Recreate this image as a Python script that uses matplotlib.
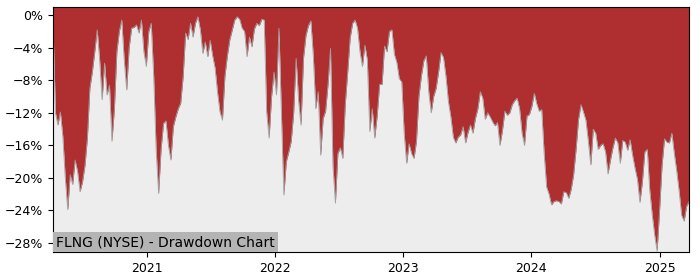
import matplotlib
matplotlib.use('Agg')
import matplotlib.pyplot as plt
import matplotlib.dates as mdates
from matplotlib.ticker import PercentFormatter, MultipleLocator
import pandas as pd

# Cores
COLOR_DD = "#AF2E30"
COLOR_BG = "#EDEDED"
COLOR_EDGE = "#A0A0A0"
COLOR_LABEL = "#B4B4B4"

TICKER = "FLNG"
EXCHANGE = "NYSE"

# drawdown semanal (%)
week_start = "2020-04-08"
drawdown = [
    -1.0, -12.0, -13.5, -11.9, -14.9, -20.0, -23.9, -19.6, -20.8, -17.8,
    -19.2, -21.7, -20.5, -18.5, -15.1, -9.0, -7.0, -4.5, -1.8, -5.5,
    -10.4, -5.9, -9.8, -8.6, -15.5, -11.5, -4.5, -2.0, -0.6, -5.5,
    -9.2, -4.0, -1.6, -1.5, -1.2, -2.2, -0.6, -4.5, -6.3, -2.0,
    -1.0, -7.5, -16.5, -21.9, -16.5, -13.3, -13.0, -16.0, -17.8, -13.7,
    -12.5, -11.5, -10.8, -7.5, -2.2, -3.0, -1.0, -2.7, -1.0, -0.2,
    -1.8, -4.7, -3.3, -5.1, -3.1, -5.0, -6.5, -9.5, -11.9, -12.9,
    -7.5, -5.0, -3.0, -1.8, -0.6, -0.2, -0.5, -1.6, -2.0, -5.1,
    -2.7, -3.9, -1.7, -1.0, -1.3, -0.5, -0.6, -11.9, -15.1, -10.0,
    -7.0, -9.8, -1.6, -12.0, -22.1, -18.0, -16.8, -15.5, -12.0, -5.3,
    -10.5, -13.5, -5.3, -2.5, -1.3, -0.7, -5.0, -11.5, -9.4, -17.2,
    -12.7, -11.8, -8.5, -4.1, -18.5, -23.1, -17.0, -16.3, -17.6, -11.0,
    -7.0, -2.8, -1.0, -0.6, -1.6, -4.5, -6.3, -3.7, -5.5, -14.3,
    -11.5, -15.1, -12.4, -8.5, -8.5, -3.8, -4.5, -2.0, -1.8, -4.8,
    -5.8, -7.8, -8.2, -14.5, -18.2, -15.8, -17.0, -17.6, -15.5, -10.0,
    -7.5, -5.6, -5.0, -9.4, -12.0, -10.0, -9.0, -7.0, -4.6, -5.2,
    -7.5, -10.6, -12.5, -15.0, -15.7, -15.0, -14.7, -13.7, -15.7, -14.4,
    -13.5, -14.5, -12.7, -11.5, -9.4, -10.2, -12.8, -12.0, -12.5, -13.1,
    -13.6, -13.2, -16.0, -14.2, -11.8, -12.3, -12.0, -11.0, -10.5, -10.2,
    -11.5, -14.5, -16.0, -12.4, -12.2, -11.2, -9.6, -10.9, -11.8, -11.6,
    -17.0, -21.1, -22.0, -23.3, -22.9, -22.8, -22.9, -23.2, -21.7, -21.8,
    -22.5, -21.4, -19.6, -16.5, -12.8, -11.0, -11.9, -12.9, -15.5, -18.4,
    -14.0, -14.5, -16.5, -16.0, -15.8, -16.8, -19.5, -17.8, -16.3, -15.1,
    -15.7, -18.2, -15.4, -15.6, -16.6, -15.3, -17.2, -18.8, -20.2, -23.0,
    -20.5, -16.8, -16.5, -21.5, -24.5, -27.0, -29.0, -24.0, -18.5, -15.2,
    -15.6, -15.7, -14.5, -17.0, -19.2, -21.7, -24.6, -25.3, -23.5, -22.9,
]
dates = pd.date_range(week_start, periods=len(drawdown), freq="7D")

y_top = 1.0
y_bottom = -29.1

fig = plt.figure(figsize=(7, 2.8), dpi=100)
ax = fig.add_axes([0.0757, 0.1, 0.9086, 0.875])
ax.set_facecolor(COLOR_BG)

# área vermelha do topo até a curva
ax.fill_between(dates, drawdown, y_top, color=COLOR_DD, linewidth=0)
ax.plot(dates, drawdown, color=COLOR_EDGE, linewidth=0.6)

ax.set_xlim(dates[0], dates[-1])
ax.set_ylim(y_bottom, y_top)

ax.yaxis.set_major_locator(MultipleLocator(4))
ax.yaxis.set_major_formatter(PercentFormatter(decimals=0))
ax.xaxis.set_major_locator(mdates.YearLocator())
ax.xaxis.set_major_formatter(mdates.DateFormatter("%Y"))
ax.tick_params(labelsize=9)

ax.text(0.005, 0.012, f"{TICKER} ({EXCHANGE}) - Drawdown Chart",
        transform=ax.transAxes, ha='left', va='bottom', fontsize=10,
        bbox=dict(facecolor=COLOR_LABEL, edgecolor='none', pad=2.2),
        zorder=5)

plt.savefig("out.png", dpi=100, facecolor='white')
plt.close()
